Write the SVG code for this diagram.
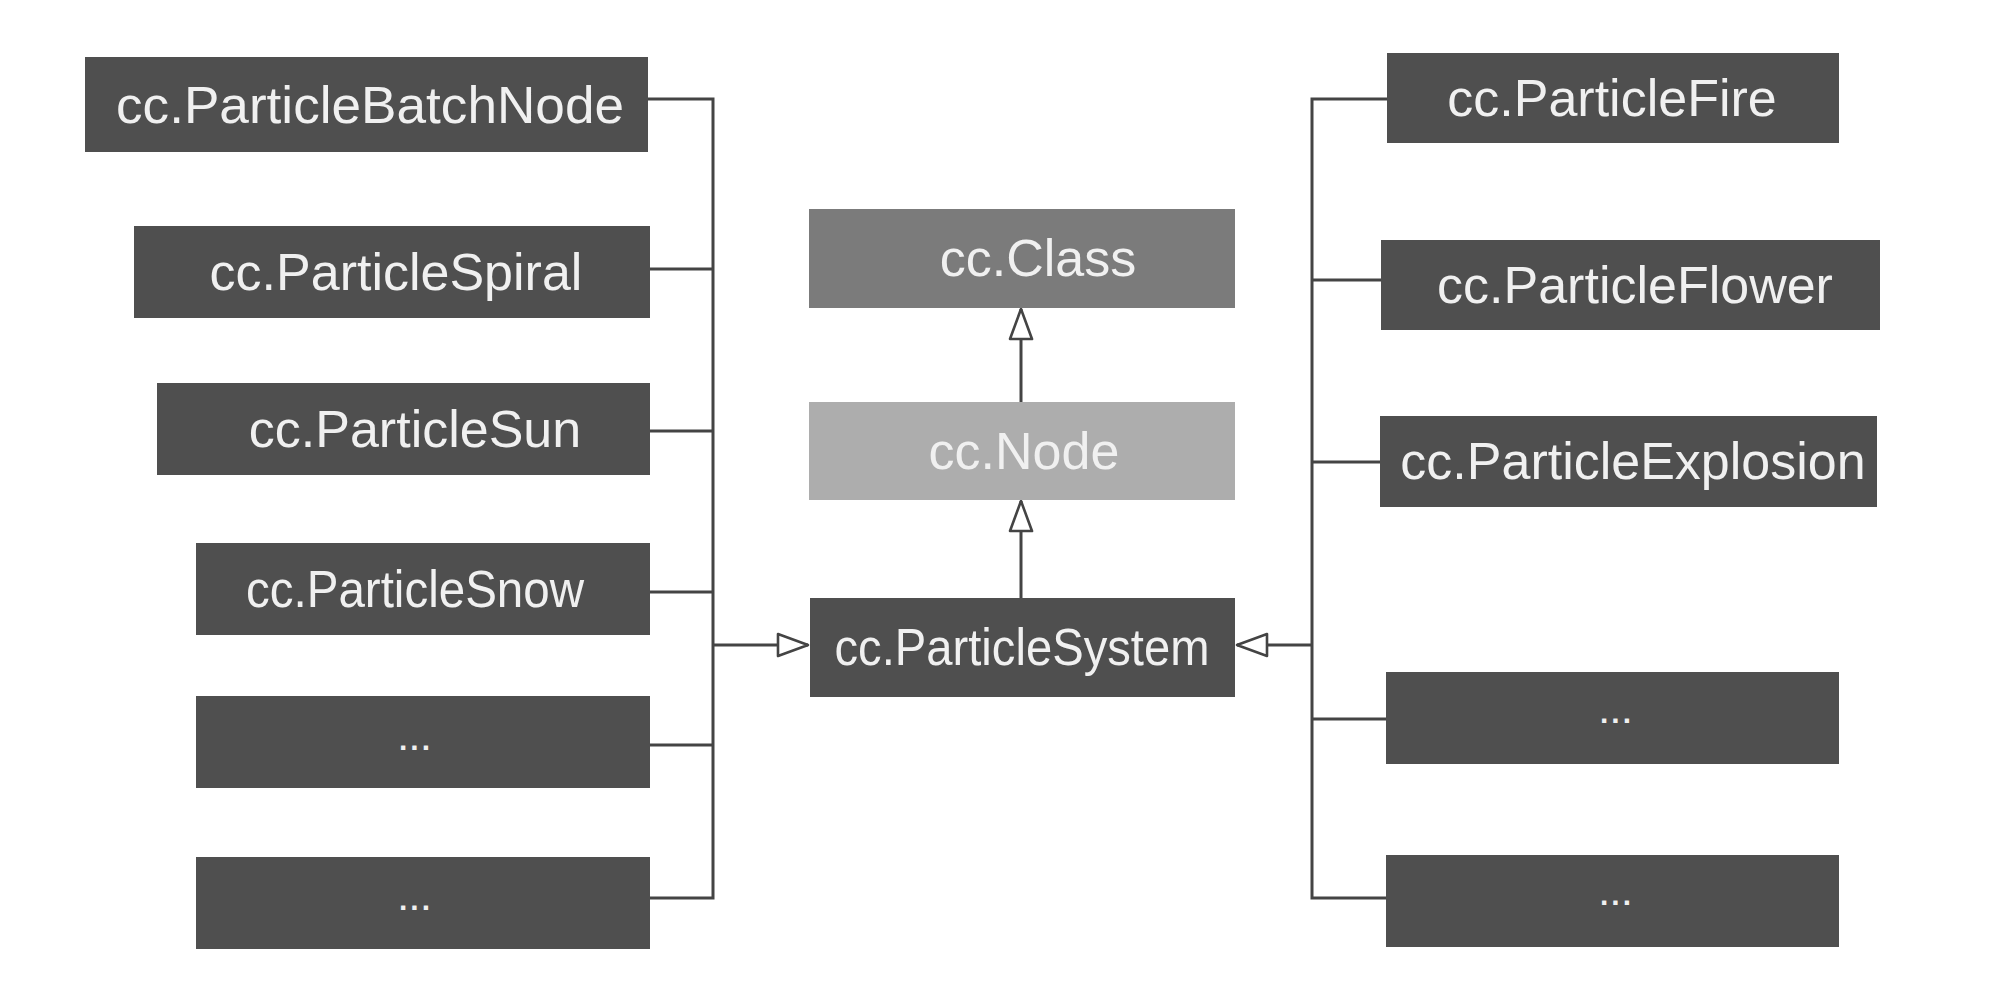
<svg xmlns="http://www.w3.org/2000/svg" width="2000" height="1000" viewBox="0 0 2000 1000">
<style>
.box{fill:#4f4f4f}
.cls{fill:#7b7b7b}
.nod{fill:#adadad}
.lbl{font-family:"Liberation Sans",Arial,sans-serif;font-size:52px;fill:#f0f0f0;text-anchor:middle}
.dots{font-family:"Liberation Sans",Arial,sans-serif;font-size:30px;font-weight:bold;fill:#f0f0f0;text-anchor:middle;letter-spacing:3px}
.ln{fill:none;stroke:#444;stroke-width:3}
</style>
<defs>
<marker id="tri" viewBox="0 0 34 26" refX="32" refY="13" markerWidth="34" markerHeight="26" markerUnits="userSpaceOnUse" orient="auto">
<path d="M2,2 L32,13 L2,24 Z" fill="#fff" stroke="#444" stroke-width="2.6" stroke-linejoin="round"/>
</marker>
</defs>
<rect width="2000" height="1000" fill="#fff"/>
<g id="connectors">
<path class="ln" d="M648,99 H713 V898 H650"/>
<path class="ln" d="M650,269 H713 M650,431 H713 M650,592 H713 M650,745 H713"/>
<path class="ln" d="M713,645 H808" marker-end="url(#tri)"/>
<path class="ln" d="M1387,99 H1312 V898 H1386"/>
<path class="ln" d="M1312,280 H1381 M1312,462 H1380 M1312,719 H1386"/>
<path class="ln" d="M1312,645 H1237" marker-end="url(#tri)"/>
<path class="ln" d="M1021,598 V501" marker-end="url(#tri)"/>
<path class="ln" d="M1021,402 V309" marker-end="url(#tri)"/>
</g>
<g id="n-batchnode"><rect class="box" x="85" y="57" width="563" height="95"/><text class="lbl" x="370" y="123" textLength="508" lengthAdjust="spacingAndGlyphs">cc.ParticleBatchNode</text></g>
<g id="n-spiral"><rect class="box" x="134" y="226" width="516" height="92"/><text class="lbl" x="396" y="290">cc.ParticleSpiral</text></g>
<g id="n-sun"><rect class="box" x="157" y="383" width="493" height="92"/><text class="lbl" x="415" y="447">cc.ParticleSun</text></g>
<g id="n-snow"><rect class="box" x="196" y="543" width="454" height="92"/><text class="lbl" x="415" y="607" textLength="338" lengthAdjust="spacingAndGlyphs">cc.ParticleSnow</text></g>
<g id="n-left-more1"><rect class="box" x="196" y="696" width="454" height="92"/><text class="dots" x="416" y="750">...</text></g>
<g id="n-left-more2"><rect class="box" x="196" y="857" width="454" height="92"/><text class="dots" x="416" y="910">...</text></g>
<g id="n-class"><rect class="cls" x="809" y="209" width="426" height="99"/><text class="lbl" x="1038" y="276">cc.Class</text></g>
<g id="n-node"><rect class="nod" x="809" y="402" width="426" height="98"/><text class="lbl" x="1024" y="469">cc.Node</text></g>
<g id="n-system"><rect class="box" x="810" y="598" width="425" height="99"/><text class="lbl" x="1022" y="665" textLength="375" lengthAdjust="spacingAndGlyphs">cc.ParticleSystem</text></g>
<g id="n-fire"><rect class="box" x="1387" y="53" width="452" height="90"/><text class="lbl" x="1612" y="116">cc.ParticleFire</text></g>
<g id="n-flower"><rect class="box" x="1381" y="240" width="499" height="90"/><text class="lbl" x="1635" y="303">cc.ParticleFlower</text></g>
<g id="n-explosion"><rect class="box" x="1380" y="416" width="497" height="91"/><text class="lbl" x="1633" y="479">cc.ParticleExplosion</text></g>
<g id="n-right-more1"><rect class="box" x="1386" y="672" width="453" height="92"/><text class="dots" x="1617" y="723">...</text></g>
<g id="n-right-more2"><rect class="box" x="1386" y="855" width="453" height="92"/><text class="dots" x="1617" y="905">...</text></g>
</svg>
